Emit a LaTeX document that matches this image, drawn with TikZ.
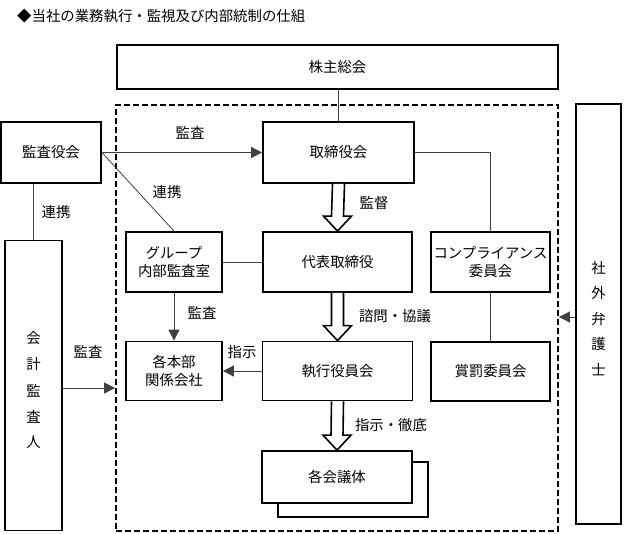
\documentclass[tikz,border=0pt]{standalone}
\usepackage{fontspec}
\setmainfont{Noto Sans CJK JP}
\usepackage{tikz}
\usetikzlibrary{arrows.meta,calc}
\tikzset{
    box/.style={draw, line width=1.8pt, fill=white, align=center, inner sep=0pt},
    conn/.style={line width=0.8pt, draw=black!75},
    arr/.style={conn, -{Triangle[length=11pt,width=11pt]}},
    lbl/.style={inner sep=0pt},
    frame/.style={draw, dashed, line width=1.8pt, dash pattern=on 6pt off 3pt, inner sep=0pt},
}
% hollow block arrow from the bottom of #1 to the top of #2
\newcommand{\hollowarrow}[2]{%
    \draw[line width=1.6pt, fill=white, line join=miter]
        ($(#1.south)+(-6,0)$) -- ($(#2.north)+(-6,-15)$) -- ($(#2.north)+(-14,-15)$)
        -- (#2.north) -- ($(#2.north)+(14,-15)$) -- ($(#2.north)+(6,-15)$)
        -- ($(#1.south)+(6,0)$);
}

\begin{document}
\begin{tikzpicture}[x=1pt,y=-1pt,font=\fontsize{14.4}{17.5}\selectfont]
    \useasboundingbox (0,0) rectangle (628,533);
    \node[lbl, anchor=west] (title) at (17,16) {◆当社の業務執行・監視及び内部統制の仕組};

    % dashed frame around the company
    \node[frame, minimum width=442, minimum height=426] (naibu) at (337,318) {};

    \node[box, minimum width=441, minimum height=44] (soukai) at (337.5,67) {株主総会};
    \node[box, minimum width=151, minimum height=61] (torishimari) at (338.5,152.5) {取締役会};
    \node[box, minimum width=100, minimum height=61] (kansayaku) at (51,152.5) {監査役会};
    \node[box, minimum width=96, minimum height=60] (group) at (174,262) {グループ\\内部監査室};
    \node[box, minimum width=149, minimum height=60] (daihyo) at (337.5,262) {代表取締役};
    \node[box, minimum width=119, minimum height=60] (comp) at (490.5,262) {コンプライアンス\\委員会};
    \node[box, minimum width=119, minimum height=59] (shobatsu) at (490.5,371.5) {賞罰委員会};
    \node[box, minimum width=150, minimum height=59] (shikko) at (337.5,371) {執行役員会};
    \node[box, minimum width=96, minimum height=59] (kakuhonbu) at (174,371) {各本部\\関係会社};
    \node[box, minimum width=57, minimum height=290] (kaikei) at (33.5,385.5) {};
    \node[box, minimum width=45, minimum height=420] (bengoshi) at (598.5,314) {};
    \node[box, minimum width=150, minimum height=55] (kaigiback) at (353,489.5) {};
    \node[box, minimum width=150, minimum height=52] (kaigi) at (337,477) {各会議体};

    % vertical names
    \foreach \c [count=\i from 0] in {会,計,監,査,人}{%
        \node[lbl] at ($(kaikei)+(0,-47+26*\i)$) {\c};
    }
    \foreach \c [count=\i from 0] in {社,外,弁,護,士}{%
        \node[lbl] at ($(bengoshi)+(0,-46+25.5*\i)$) {\c};
    }

    % connectors
    \draw[conn] (soukai.south -| torishimari.north) -- (torishimari.north);
    \draw[arr] (kansayaku.east) -- (torishimari.west);
    \draw[conn] (kansayaku.east) -- (group.north);
    \draw[conn] (kansayaku.south -| kaikei.north) -- (kaikei.north);
    \draw[conn] (group.east) -- (daihyo.west);
    \draw[conn] (torishimari.east) -| (comp.north);
    \draw[conn] (comp.south) -- (shobatsu.north);
    \draw[arr] (group.south) -- (kakuhonbu.north);
    \draw[arr] (shikko.west) -- (kakuhonbu.east);
    \draw[arr] ($(kaikei.east)+(0,2.5)$) -- ($(kaikei.east -| naibu.west)+(0,2.5)$);
    \draw[arr] ($(bengoshi.west)+(0,3)$) -- ($(bengoshi.west -| naibu.east)+(0,3)$);

    \hollowarrow{torishimari}{daihyo}
    \hollowarrow{daihyo}{shikko}
    \hollowarrow{shikko}{kaigi}

    % labels
    \node[lbl] (l1) at (190,133) {監査};
    \node[lbl] (l2) at (167,192) {連携};
    \node[lbl] (l3) at (56,212) {連携};
    \node[lbl] (l4) at (374,203) {監督};
    \node[lbl] (l5) at (395,316) {諮問・協議};
    \node[lbl] (l6) at (202,313) {監査};
    \node[lbl] (l7) at (242,352) {指示};
    \node[lbl] (l8) at (88,352) {監査};
    \node[lbl] (l9) at (391,425) {指示・徹底};
\end{tikzpicture}
\end{document}
